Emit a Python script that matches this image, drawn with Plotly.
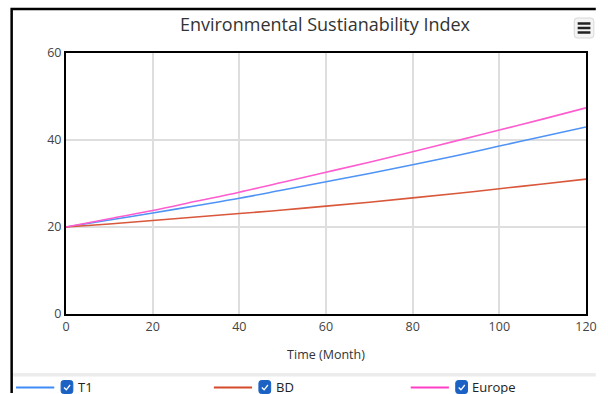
import plotly.graph_objects as go

# ---- data ----
months = [0, 10, 20, 30, 40, 50, 60, 70, 80, 90, 100, 110, 120]
t1 = [20, 21.6, 23.2, 24.9, 26.6, 28.5, 30.4, 32.3, 34.3, 36.4, 38.6, 40.8, 43.0]
bd = [20, 20.7, 21.5, 22.3, 23.1, 23.9, 24.8, 25.7, 26.7, 27.7, 28.8, 29.9, 31.0]
europe = [20, 21.9, 23.8, 25.9, 28.0, 30.3, 32.6, 34.9, 37.3, 39.8, 42.3, 44.8, 47.4]
series_names = ["T1", "BD", "Europe"]
series_values = [t1, bd, europe]
colors = ["#4f93f7", "#d9573a", "#ff5ccf"]
legend_colors = ["#3f8cf7", "#d44a2b", "#ff3fc6"]

W, H = 608, 394
L, R, T, B = 66, 597, 53, 314


def px(x):
    return (x - L) / (R - L)


def py(y):
    return (B - y) / (B - T)


fig = go.Figure()
for name, vals, c in zip(series_names, series_values, colors):
    fig.add_trace(go.Scatter(x=months, y=vals, name=name, mode="lines",
                             line=dict(color=c, width=1.6, shape="spline"),
                             showlegend=False))

shapes = []
annotations = []

# outer black frame (top and left edges only, kept inside the canvas)
shapes.append(dict(type="path", xref="paper", yref="paper",
                   path=f"M {px(607)},{py(9)} L {px(10.5)},{py(9)} L {px(10.5)},{py(393)}",
                   line=dict(color="black", width=2.5), layer="above"))
# separator band above legend
shapes.append(dict(type="rect", xref="paper", yref="paper",
                   x0=px(12), x1=px(607), y0=py(373), y1=py(376.5),
                   line=dict(width=0), fillcolor="#ececec", layer="above"))

# menu icon
x0m, x1m, y0m, y1m = 585, 605, 18, 38
r = 3
path = (f"M {px(x0m + r)},{py(y0m)} L {px(x1m - r)},{py(y0m)} "
        f"Q {px(x1m)},{py(y0m)} {px(x1m)},{py(y0m + r)} "
        f"L {px(x1m)},{py(y1m - r)} Q {px(x1m)},{py(y1m)} {px(x1m - r)},{py(y1m)} "
        f"L {px(x0m + r)},{py(y1m)} Q {px(x0m)},{py(y1m)} {px(x0m)},{py(y1m - r)} "
        f"L {px(x0m)},{py(y0m + r)} Q {px(x0m)},{py(y0m)} {px(x0m + r)},{py(y0m)} Z")
shapes.append(dict(type="path", xref="paper", yref="paper", path=path,
                   fillcolor="#f4f4f4", line=dict(color="#d8d8d8", width=1), layer="above"))
for yy in (23.5, 28, 32.5):
    shapes.append(dict(type="line", xref="paper", yref="paper",
                       x0=px(588.5), x1=px(601.5), y0=py(yy), y1=py(yy),
                       line=dict(color="#222", width=2.5), layer="above"))

# manual legend with checkboxes
legend_x = [15, 217, 418]
ly = 387
for name, c, lx in zip(series_names, legend_colors, legend_x):
    shapes.append(dict(type="line", xref="paper", yref="paper",
                       x0=px(lx), x1=px(lx + 39), y0=py(ly + 0.5), y1=py(ly + 0.5),
                       line=dict(color=c, width=2.2), layer="above"))
    cx0, cx1, cy0, cy1 = lx + 46, lx + 58, ly - 6.5, ly + 6.5
    rr = 2.5
    p = (f"M {px(cx0 + rr)},{py(cy0)} L {px(cx1 - rr)},{py(cy0)} "
         f"Q {px(cx1)},{py(cy0)} {px(cx1)},{py(cy0 + rr)} "
         f"L {px(cx1)},{py(cy1 - rr)} Q {px(cx1)},{py(cy1)} {px(cx1 - rr)},{py(cy1)} "
         f"L {px(cx0 + rr)},{py(cy1)} Q {px(cx0)},{py(cy1)} {px(cx0)},{py(cy1 - rr)} "
         f"L {px(cx0)},{py(cy0 + rr)} Q {px(cx0)},{py(cy0)} {px(cx0 + rr)},{py(cy0)} Z")
    shapes.append(dict(type="path", xref="paper", yref="paper", path=p,
                       fillcolor="#1b62c4", line=dict(color="#1b62c4", width=1), layer="above"))
    chk = (f"M {px(cx0 + 3)},{py(ly + 0.5)} L {px(cx0 + 5.3)},{py(ly + 2.8)} "
           f"L {px(cx0 + 9.2)},{py(ly - 2)}")
    shapes.append(dict(type="path", xref="paper", yref="paper", path=chk,
                       line=dict(color="white", width=1.3), layer="above"))
    annotations.append(dict(xref="paper", yref="paper", x=px(lx + 61), y=py(ly),
                            text=name, showarrow=False, xanchor="left", yanchor="middle",
                            font=dict(family="Open Sans", size=13, color="#222")))

fig.update_layout(
    width=W, height=H,
    margin=dict(l=L, r=W - R, t=T, b=H - B),
    paper_bgcolor="white", plot_bgcolor="white",
    title=dict(text="Environmental Sustianability Index", x=325 / W, xanchor="center",
               y=1 - 25 / H, yanchor="middle", yref="container",
               font=dict(family="Open Sans", size=18, color="#333")),
    font=dict(family="Open Sans", size=12, color="#444"),
    xaxis=dict(range=[0, 120], tickvals=[0, 20, 40, 60, 80, 100, 120],
               showgrid=True, gridcolor="#dedede", gridwidth=1.5,
               showline=True, linecolor="black", linewidth=2, mirror=True,
               zeroline=False, ticks="", ticklen=0,
               title=dict(text="Time (Month)", font=dict(size=12.5, color="#333"), standoff=16),
               tickfont=dict(size=12.5, color="#444")),
    yaxis=dict(range=[0, 60], tickvals=[0, 20, 40, 60],
               showgrid=True, gridcolor="#dedede", gridwidth=1.5,
               showline=True, linecolor="black", linewidth=2, mirror=True,
               zeroline=False, ticks="", ticklen=0,
               tickfont=dict(size=12.5, color="#444")),
    shapes=shapes,
    annotations=annotations,
    showlegend=False,
)

fig.write_html(
    "out.html",
    config={"displayModeBar": False},
    post_script="document.body.style.margin='0';document.body.style.overflow='hidden';",
)
